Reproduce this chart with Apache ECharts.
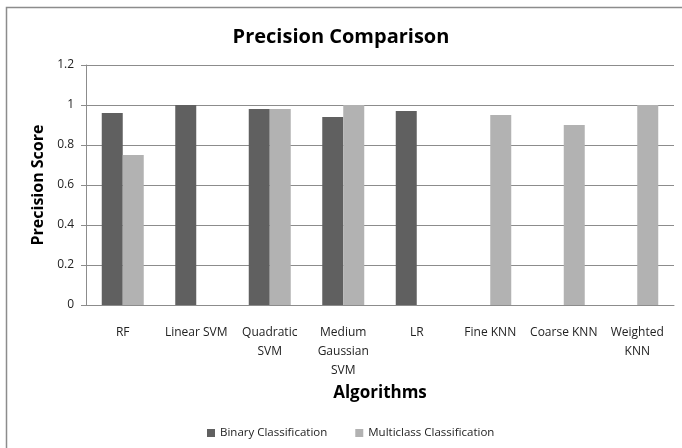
<!DOCTYPE html>
<html>
<head>
<meta charset="utf-8">
<script src="https://cdn.jsdelivr.net/npm/echarts@6/dist/echarts.min.js"></script>
<style>
  html, body { margin: 0; padding: 0; background: #fff; }
  #main { width: 682px; height: 448px; }
</style>
</head>
<body>
<div id="main"></div>
<script>
var categories = ['RF', 'Linear SVM', 'Quadratic\nSVM', 'Medium\nGaussian\nSVM', 'LR', 'Fine KNN', 'Coarse KNN', 'Weighted\nKNN'];
var binary = [0.96, 1.0, 0.98, 0.94, 0.97, null, null, null];
var multiclass = [0.75, null, 0.98, 1.0, null, 0.95, 0.90, 1.0];

var font = '"Open Sans", "Noto Sans", sans-serif';

var myChart = echarts.init(document.getElementById('main'));
var option = {
    animation: false,
    backgroundColor: '#fff',
    textStyle: { fontFamily: font },
    graphic: [{
        type: 'rect',
        shape: { x: 6.5, y: 7.5, width: 700, height: 460 },
        style: { fill: 'none', stroke: '#8c8c8c', lineWidth: 1.5 },
        silent: true
    }],
    title: {
        text: 'Precision Comparison',
        left: 'center',
        top: 22,
        textStyle: { fontFamily: font, fontSize: 20, fontWeight: 'bold', color: '#000' }
    },
    legend: {
        bottom: 4,
        left: 202,
        itemWidth: 8,
        itemHeight: 8,
        itemGap: 28,
        icon: 'rect',
        textStyle: { fontFamily: font, fontSize: 11.5, color: '#222' },
        data: ['Binary Classification', 'Multiclass Classification']
    },
    grid: { left: 86, right: 8, top: 65, bottom: 143 },
    xAxis: {
        type: 'category',
        data: categories,
        name: 'Algorithms',
        nameLocation: 'middle',
        nameGap: 78,
        nameTextStyle: { fontFamily: font, fontSize: 17, fontWeight: 'bold', color: '#000' },
        axisLine: { lineStyle: { color: '#8c8c8c' } },
        axisTick: { length: 5, lineStyle: { color: '#8c8c8c' } },
        axisLabel: { interval: 0, margin: 18, fontSize: 12, lineHeight: 19, color: '#222' }
    },
    yAxis: {
        type: 'value',
        min: 0,
        max: 1.2,
        interval: 0.2,
        name: 'Precision Score',
        nameLocation: 'middle',
        nameGap: 40,
        nameTextStyle: { fontFamily: font, fontSize: 16, fontWeight: 'bold', color: '#000' },
        axisLine: { show: true, lineStyle: { color: '#8c8c8c' } },
        axisTick: { show: true, length: 5, lineStyle: { color: '#8c8c8c' } },
        axisLabel: { fontSize: 12, color: '#222', margin: 12 },
        splitLine: { lineStyle: { color: '#8c8c8c', width: 1 } }
    },
    series: [{
        name: 'Binary Classification',
        type: 'bar',
        data: binary,
        barWidth: 21,
        barGap: '0%',
        itemStyle: { color: '#606060' }
    }, {
        name: 'Multiclass Classification',
        type: 'bar',
        data: multiclass,
        barWidth: 21,
        itemStyle: { color: '#b2b2b2' }
    }]
};
myChart.setOption(option);
</script>
</body>
</html>
